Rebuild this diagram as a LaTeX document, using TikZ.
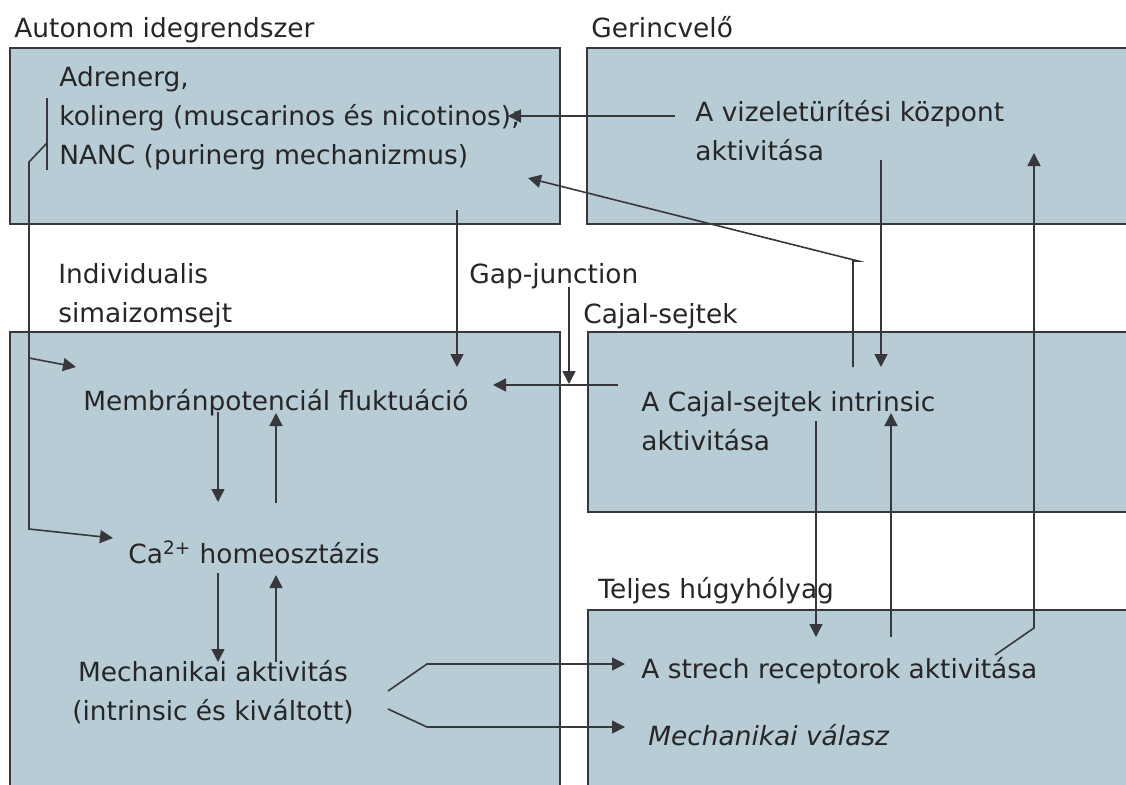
\documentclass[tikz,border=0pt]{standalone}
\usepackage{fontspec}
\setmainfont{DejaVu Sans}
\usetikzlibrary{arrows.meta,positioning}
\definecolor{panelfill}{RGB}{184,204,213}
\definecolor{inkline}{RGB}{55,55,60}
\tikzset{
  panel/.style={draw=inkline, fill=panelfill, line width=0.8pt},
  txt/.style={anchor=base west, inner sep=0pt, align=left, text=black!85, font=\fontsize{13.2}{19.5}\selectfont},
  link/.style={draw=inkline, line width=0.8pt},
  arr/.style={link, -{Triangle[length=6.5pt,width=6.5pt]}}
}
\begin{document}
\begin{tikzpicture}[x=0.5pt, y=-0.5pt]
   \useasboundingbox (0,0) rectangle (1126,784);
   \fill[white] (0,0) rectangle (1126,784);

   % panels
   \draw[panel] (10,48) rectangle (560,224);
   \draw[panel] (587,48) rectangle (1132,224);
   \draw[panel] (10,332) rectangle (560,790);
   \draw[panel] (588,332) rectangle (1132,512);
   \draw[panel] (588,610) rectangle (1132,790);

   % headings (multi-line nodes sit on their last line)
   \node[txt] (autonom) at (14,37) {Autonom idegrendszer};
   \node[txt] (gerinc) at (591,37) {Gerincvelő};
   \node[txt] (indiv) at (58,322) {Individualis\\simaizomsejt};
   \node[txt] (gap) at (469,283) {Gap-junction};
   \node[txt] (cajal) at (583,323) {Cajal-sejtek};
   \node[txt] (teljes) at (598,598) {Teljes húgyhólyag};

   % texts in the panels
   \node[txt] (neuro) at (59,164) {Adrenerg,\\kolinerg (muscarinos és nicotinos);\\NANC (purinerg mechanizmus)};
   \node[txt] (kozpont) at (695,160) {A vizeletürítési központ\\aktivitása};
   \node[txt] (memb) at (83,410) {Membránpotenciál fluktuáció};
   \node[txt] (calc) at (128,563) {Ca\textsuperscript{2+} homeosztázis};
   \node[txt, anchor=base, align=center] (mech) at (213,720) {Mechanikai aktivitás\\(intrinsic és kiváltott)};
   \node[txt] (icc) at (641,450) {A Cajal-sejtek intrinsic\\aktivitása};
   \node[txt] (strech) at (641,678) {A strech receptorok aktivitása};
   \node[txt, font=\fontsize{13.2}{19.5}\selectfont\itshape] (valasz) at (648,745) {Mechanikai válasz};

   % end points of the connectors
   \foreach \n/\x/\y in {k1/675/116, n1/508/116, i1/853/367, i2/858/261, n2/528/178,
       k2/881/160, i3/881/367, s1/995/655, s2/1034/628, k3/1034/153,
       i4/816/421, s3/816/637, s4/891/637, i5/891/413,
       n3/457/210, m1/457/367, g1/569/287, m2/569/384, i6/618/385, m3/493/385,
       b1/47/98, b2/47/170, b3/47/143, b4/29/162, b5/29/529, c1/113/538, b6/29/358, m4/76/367,
       m5/218/412, c2/218/502, c3/276/503, m6/276/413,
       c4/218/573, h1/218/662, h2/276/662, c5/276/575,
       h3/388/691, h4/427/664, s5/625/664, h5/388/709, h6/427/727, v1/625/727}
     \coordinate (\n) at (\x,\y);

   % connectors
   \draw[arr] (k1) -- (n1);
   \draw[arr] (i1) |- (i2) -- (n2);
   \draw[arr] (k2) -- (i3);
   \draw[arr] (s1) -- (s2) -- (k3);
   \draw[arr] (i4) -- (s3);
   \draw[arr] (s4) -- (i5);
   \draw[arr] (n3) -- (m1);
   \draw[arr] (g1) -- (m2);
   \draw[arr] (i6) -- (m3);
   \draw[link] (b1) -- (b2);
   \draw[arr] (b3) -- (b4) -- (b5) -- (c1);
   \draw[arr] (b6) -- (m4);
   \draw[arr] (m5) -- (c2);
   \draw[arr] (c3) -- (m6);
   \draw[arr] (c4) -- (h1);
   \draw[arr] (h2) -- (c5);
   \draw[arr] (h3) -- (h4) -- (s5);
   \draw[arr] (h5) -- (h6) -- (v1);

\end{tikzpicture}
\end{document}
